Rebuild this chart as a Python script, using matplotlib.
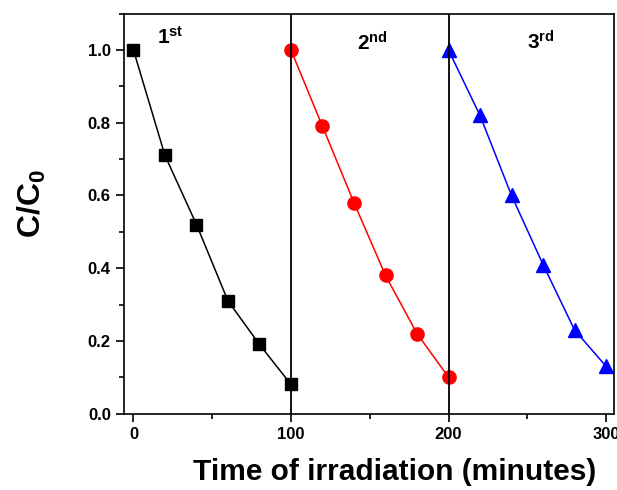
import matplotlib
matplotlib.use("Agg")
import matplotlib.pyplot as plt
from matplotlib.ticker import MultipleLocator

plt.rcParams['font.family'] = ['Liberation Sans', 'DejaVu Sans']
plt.rcParams['mathtext.fontset'] = 'custom'
plt.rcParams['mathtext.rm'] = 'Liberation Sans:bold'
plt.rcParams['mathtext.it'] = 'Liberation Sans:bold'
plt.rcParams['mathtext.bf'] = 'Liberation Sans:bold'

# Data
t1 = [0, 20, 40, 60, 80, 100]
c1 = [1.0, 0.71, 0.52, 0.31, 0.19, 0.08]
t2 = [100, 120, 140, 160, 180, 200]
c2 = [1.0, 0.79, 0.58, 0.38, 0.22, 0.10]
t3 = [200, 220, 240, 260, 280, 300]
c3 = [1.0, 0.82, 0.60, 0.41, 0.23, 0.13]
cycle_bounds = [100, 200]
cycle_labels = ["1$^\\mathregular{st}$", "2$^\\mathregular{nd}$", "3$^\\mathregular{rd}$"]
label_x = [15, 142, 250]
label_y = [1.018, 0.998, 1.001]

fig = plt.figure(figsize=(6.17, 4.9), dpi=100)
ax = fig.add_axes([0.201, 0.156, 0.794, 0.816])

ax.plot(t1, c1, color="black", marker="s", markersize=8.5, lw=1.1)
ax.plot(t2, c2, color="red", marker="o", markersize=9.5, lw=1.1)
ax.plot(t3, c3, color="blue", marker="^", markersize=10, lw=1.1)

for b in cycle_bounds:
    ax.axvline(b, color="black", lw=1.3)

for x, y, s in zip(label_x, label_y, cycle_labels):
    ax.text(x, y, s, fontsize=15, fontweight="bold", ha="left", va="baseline")

ax.set_xlim(-6, 305)
ax.set_ylim(0, 1.1)
ax.xaxis.set_major_locator(MultipleLocator(100))
ax.xaxis.set_minor_locator(MultipleLocator(50))
ax.yaxis.set_major_locator(MultipleLocator(0.2))
ax.yaxis.set_minor_locator(MultipleLocator(0.1))
ax.tick_params(which="both", direction="out", width=1.2)
ax.tick_params(which="major", length=6, labelsize=12)
ax.tick_params(which="minor", length=3.5)
for lab in ax.get_xticklabels() + ax.get_yticklabels():
    lab.set_fontweight("bold")
for sp in ax.spines.values():
    sp.set_linewidth(1.2)

ax.set_xlabel("Time of irradiation (minutes)", fontsize=21.5, fontweight="bold")
ax.xaxis.label.set_horizontalalignment("left")
ax.xaxis.set_label_coords((193 - 124) / 490, -0.112)
ax.set_ylabel("C/C$_\\mathregular{0}$", fontsize=23, fontweight="bold")
ax.yaxis.set_label_coords(-0.155, 0.524)

fig.savefig("out.png", dpi=100)
